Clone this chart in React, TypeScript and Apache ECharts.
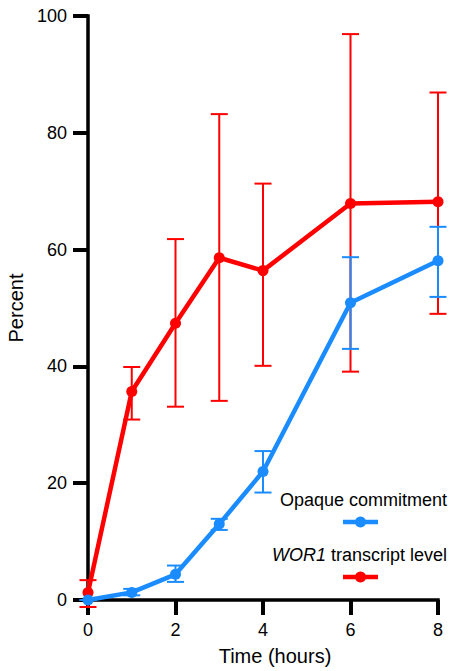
import React, { useEffect, useRef } from "react";
import * as echarts from "echarts";

const hours = [0, 1, 2, 3, 4, 6, 8];
const wor1Mean = [1.3, 35.7, 47.4, 58.6, 56.4, 67.9, 68.2];
const wor1Low = [-1.2, 30.9, 33.1, 34.1, 40.1, 39.1, 49.0];
const wor1High = [3.4, 39.9, 61.8, 83.2, 71.3, 96.9, 86.9];
const opaqueMean = [0.0, 1.3, 4.4, 13.0, 22.0, 50.9, 58.1];
const opaqueLow = [0.0, 0.8, 3.1, 12.0, 18.4, 43.0, 51.9];
const opaqueHigh = [0.0, 1.9, 5.9, 13.9, 25.5, 58.7, 63.9];

const RED = "#ff0000";
const BLUE = "#1a8cff";
const FONT = "Liberation Sans, Arial, sans-serif";

function errorSeries(name: string, low: number[], high: number[], color: string, width: number, z: number) {
  return {
    type: "custom",
    name,
    z,
    clip: false,
    data: hours.map((h, i) => [h, low[i], high[i]]),
    encode: { x: 0, y: [1, 2] },
    renderItem: (params: any, api: any) => {
      const x = api.value(0);
      const lo = api.coord([x, api.value(1)]);
      const hi = api.coord([x, api.value(2)]);
      const half = 8.5;
      const style = { stroke: color, lineWidth: width, fill: "none" };
      return {
        type: "group",
        children: [
          { type: "line", shape: { x1: lo[0], y1: lo[1], x2: hi[0], y2: hi[1] }, style },
          { type: "line", shape: { x1: lo[0] - half, y1: lo[1], x2: lo[0] + half, y2: lo[1] }, style },
          { type: "line", shape: { x1: hi[0] - half, y1: hi[1], x2: hi[0] + half, y2: hi[1] }, style },
        ],
      };
    },
  };
}

export default function App() {
  const ref = useRef<HTMLDivElement>(null);
  useEffect(() => {
    if (!ref.current) return;
    const chart = echarts.init(ref.current, undefined, { renderer: "svg" });
    const axisLine = { show: true, onZero: false, lineStyle: { color: "#000", width: 3.5, cap: "square" } };
    const axisTick = { show: true, inside: false, length: 15, lineStyle: { color: "#000", width: 4 } };
    chart.setOption({
      animation: false,
      backgroundColor: "#fff",
      grid: { left: 88, right: 17, top: 16, bottom: 71, outerBoundsMode: "none", containLabel: false },
      xAxis: {
        type: "value",
        min: 0,
        max: 8,
        interval: 2,
        axisLine,
        axisTick,
        axisLabel: { margin: 21, fontSize: 18, color: "#000", fontFamily: FONT },
        splitLine: { show: false },
        name: "Time (hours)",
        nameLocation: "middle",
        nameGap: 46,
        nameTextStyle: { fontSize: 20, color: "#000", fontFamily: FONT, padding: [0, 0, 0, 24] },
      },
      yAxis: {
        type: "value",
        min: 0,
        max: 100,
        interval: 20,
        axisLine,
        axisTick: { show: true, inside: false, length: 15, lineStyle: { color: "#000", width: 4 } },
        axisLabel: { margin: 21, fontSize: 18, color: "#000", fontFamily: FONT },
        splitLine: { show: false },
        name: "Percent",
        nameLocation: "middle",
        nameGap: 62,
        nameTextStyle: { fontSize: 20, color: "#000", fontFamily: FONT },
      },
      series: [
        errorSeries("WOR1 err", wor1Low, wor1High, RED, 2, 2),
        {
          type: "line",
          name: "WOR1",
          z: 3,
          data: hours.map((h, i) => [h, wor1Mean[i]]),
          symbol: "circle",
          symbolSize: 11,
          showAllSymbol: true,
          lineStyle: { color: RED, width: 4.5 },
          itemStyle: { color: RED },
          clip: false,
        },
        errorSeries("Opaque err", opaqueLow, opaqueHigh, BLUE, 2, 4),
        {
          type: "line",
          name: "Opaque",
          z: 5,
          data: hours.map((h, i) => [h, opaqueMean[i]]),
          symbol: "circle",
          symbolSize: 11,
          showAllSymbol: true,
          lineStyle: { color: BLUE, width: 4.5 },
          itemStyle: { color: BLUE },
          clip: false,
        },
      ],
      graphic: [
        {
          type: "text",
          right: 8,
          top: 491,
          style: { text: "Opaque commitment", fontSize: 18, fill: "#000", fontFamily: FONT },
        },
        { type: "line", shape: { x1: 343, y1: 522, x2: 378, y2: 522 }, style: { stroke: BLUE, lineWidth: 4.5 } },
        { type: "circle", shape: { cx: 360.5, cy: 522, r: 5.5 }, style: { fill: BLUE } },
        {
          type: "text",
          right: 8,
          top: 546,
          style: {
            text: "{i|WOR1} transcript level",
            fontSize: 18,
            fill: "#000",
            fontFamily: FONT,
            rich: { i: { fontStyle: "italic", fontSize: 18, fontFamily: FONT, fill: "#000" } },
          },
        },
        { type: "line", shape: { x1: 343, y1: 577, x2: 378, y2: 577 }, style: { stroke: RED, lineWidth: 4.5 } },
        { type: "circle", shape: { cx: 360.5, cy: 577, r: 5.5 }, style: { fill: RED } },
      ],
    });
    return () => chart.dispose();
  }, []);
  return <div ref={ref} style={{ width: 455, height: 671, position: "fixed", left: 0, top: 0 }} />;
}
